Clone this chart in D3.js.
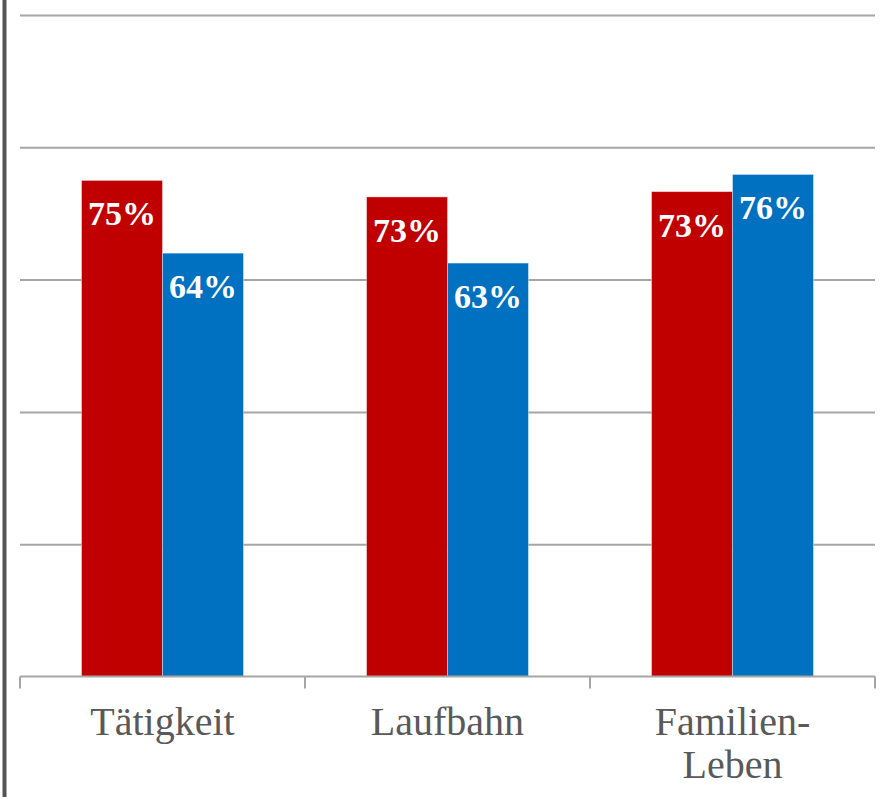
<!DOCTYPE html>
<html>
<head>
<meta charset="utf-8">
<script src="https://cdn.jsdelivr.net/npm/d3@7"></script>
<style>
  body { margin: 0; background: #fff; }
  svg { display: block; }
</style>
</head>
<body>
<div id="chart"></div>
<script>
(function(d3) {
  'use strict';

  // data
  var categories = ['Tätigkeit', 'Laufbahn', 'Familien-\nLeben'];
  var seriesKeys = ['rot', 'blau'];
  var redValues = [75, 72.5, 73.3];
  var blueValues = [64, 62.5, 75.9];
  var redLabels = ['75%', '73%', '73%'];
  var blueLabels = ['64%', '63%', '76%'];
  var gridTicks = [20, 40, 60, 80, 100];

  var width = 885;
  var height = 799;
  var left = 20, right = 875, top = 15, bottom = 676.5;

  var color = d3.scaleOrdinal()
    .domain(seriesKeys)
    .range(['#c00000', '#0070c0']);

  var svg = d3.select('#chart')
    .append('svg')
    .attr('width', width)
    .attr('height', height);

  var x = d3.scaleBand()
    .domain(categories)
    .range([left, right])
    .padding(0);

  var xSub = d3.scaleBand()
    .domain(seriesKeys)
    .range([0, x.bandwidth()])
    .paddingInner(0)
    .paddingOuter(0.76);

  var y = d3.scaleLinear()
    .domain([0, 100])
    .range([bottom, top]);

  // dark line on the left edge
  svg.append('rect')
    .attr('x', 2.5)
    .attr('y', 0)
    .attr('width', 4)
    .attr('height', 797)
    .attr('fill', '#555555');

  // gridlines
  var grid = svg.append('g')
    .attr('transform', 'translate(' + left + ',0)')
    .call(d3.axisLeft(y).tickValues(gridTicks).tickSize(-(right - left)).tickFormat(''));
  grid.select('.domain').remove();
  grid.selectAll('.tick line')
    .attr('stroke', '#a6a6a6')
    .attr('stroke-width', 2);

  var rows = categories.map(function(c, i) {
    return {
      cat: c,
      bars: [
        { key: 'rot', value: redValues[i], label: redLabels[i] },
        { key: 'blau', value: blueValues[i], label: blueLabels[i] }
      ]
    };
  });

  var groups = svg.selectAll('.group')
    .data(rows)
    .enter()
    .append('g')
    .attr('class', 'group')
    .attr('transform', function(d) { return 'translate(' + x(d.cat) + ',0)'; });

  groups.selectAll('rect')
    .data(function(d) { return d.bars; })
    .enter()
    .append('rect')
    .attr('x', function(d) { return xSub(d.key); })
    .attr('y', function(d) { return y(d.value); })
    .attr('width', xSub.bandwidth())
    .attr('height', function(d) { return y(0) - y(d.value); })
    .attr('fill', function(d) { return color(d.key); })
    .attr('stroke', '#ffffff')
    .attr('stroke-opacity', 0.5)
    .attr('stroke-width', 0.8);

  groups.selectAll('text.value')
    .data(function(d) { return d.bars; })
    .enter()
    .append('text')
    .attr('class', 'value')
    .attr('x', function(d) { return xSub(d.key) + xSub.bandwidth() / 2; })
    .attr('y', function(d) { return y(d.value) + 45; })
    .attr('text-anchor', 'middle')
    .style('font-family', '"Liberation Serif", serif')
    .style('font-weight', 'bold')
    .style('font-size', '34px')
    .style('fill', '#ffffff')
    .text(function(d) { return d.label; });

  // x axis: baseline plus boundary ticks
  var axis = svg.append('g').attr('class', 'x-axis');
  axis.append('line')
    .attr('x1', left)
    .attr('x2', right)
    .attr('y1', y(0))
    .attr('y2', y(0))
    .attr('stroke', '#a6a6a6')
    .attr('stroke-width', 2);

  var bounds = categories.map(function(c) { return x(c); }).concat([x(categories[categories.length - 1]) + x.bandwidth()]);
  axis.selectAll('.bound')
    .data(bounds)
    .enter()
    .append('line')
    .attr('class', 'bound')
    .attr('x1', function(d) { return d; })
    .attr('x2', function(d) { return d; })
    .attr('y1', y(0))
    .attr('y2', y(0) + 12)
    .attr('stroke', '#a6a6a6')
    .attr('stroke-width', 2);

  var catLabels = axis.selectAll('.cat')
    .data(categories)
    .enter()
    .append('text')
    .attr('class', 'cat')
    .attr('x', function(d) { return x(d) + x.bandwidth() / 2; })
    .attr('y', 735)
    .attr('text-anchor', 'middle')
    .style('font-family', '"Liberation Serif", serif')
    .style('font-size', '40px')
    .style('fill', '#595959');

  catLabels.each(function(d) {
    var t = d3.select(this);
    d.split('\n').forEach(function(line, i) {
      t.append('tspan')
        .attr('x', x(d) + x.bandwidth() / 2)
        .attr('dy', i === 0 ? 0 : 43)
        .text(line);
    });
  });

})(window.d3);
</script>
</body>
</html>
